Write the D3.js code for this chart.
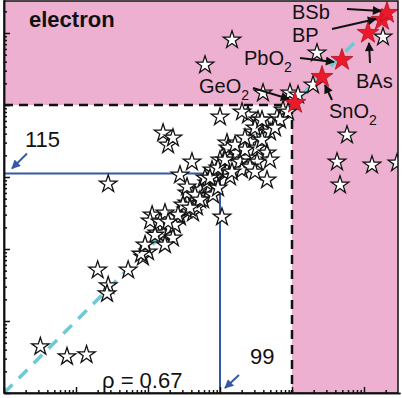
<!DOCTYPE html>
<html>
<head>
<meta charset="utf-8">
<script src="https://cdn.jsdelivr.net/npm/d3@7"></script>
<style>
  body { margin: 0; background: #fff; }
  svg { display: block; font-family: "Liberation Sans", Arial, sans-serif; }
</style>
</head>
<body>
<svg id="chart" width="402" height="398"></svg>
<script>
// ---- data ----
var starX = [3.2, 7.5, 14, 20, 28, 27, 53, 28, 85, 100, 80, 114, 107, 133, 162, 172, 202, 222, 278, 348,
  422, 125, 337, 480, 581, 527, 726, 348, 660, 853, 1173, 278, 408, 190, 162, 222, 1066, 348, 1000, 1250,
  1377, 1250, 1517, 1377, 2448, 2021, 6190, 7500, 4495, 4947, 2872, 2610, 1292, 1722, 3266, 2371, 4495, 4947, 3266, 1896,
  2021, 2610, 4495, 619, 1468, 22230, 3956, 9380, 12120, 19580, 183600, 58070, 42170, 129100, 287300, 46400, 8800, 6813, 450, 800,
  938, 237, 306, 91, 147, 3831, 5807, 2222, 774, 619, 1000, 3372,
  726, 938, 1173, 1616, 2222, 3063, 3831, 1468, 527, 383, 261, 190, 172, 3063];
var starY = [4.4, 3.2, 3.4, 51, 31, 24, 51, 800, 77, 91, 85, 297, 245, 167, 167, 316, 196, 142, 278, 435,
  316, 156, 348, 383, 480, 660, 726, 600, 826, 1000, 1136, 1066, 1616, 2783, 4083, 3480, 278, 726, 6813, 2966,
  2371, 1250, 1564, 1000, 7262, 8000, 6813, 8530, 4947, 4217, 4217, 3063, 2530, 2154, 2530, 1836, 2154, 1722, 1616, 1616,
  1250, 1377, 908, 35940, 80000, 52740, 14680, 14680, 13770, 18950, 88000, 3831, 1616, 1468, 1564, 774, 8000, 6190, 562, 562,
  703, 215, 408, 114, 237, 3266, 4795, 2371, 1250, 968, 1722, 6190,
  968, 1334, 1722, 2783, 3480, 4795, 6190, 1173, 480, 371, 297, 237, 114, 1173];

var hitNames = ["GeO", "SnO", "PbO", "BAs", "BP", "BSb"];
var hitSubs  = ["2", "2", "2", "", "", ""];
var hitX = [11010, 26100, 49470, 113600, 177800, 208400];
var hitY = [10660, 24480, 42170, 100000, 151700, 189600];

var threshold = 1e4;
var blueX = 1000, blueY = 1120;
var countLeft = "115", countBottom = "99";
var rhoText = "\u03c1 = 0.67";
var panelTitle = "electron";
var majorTicks = [1, 10, 100, 1e3, 1e4, 1e5];

// ---- layout ----
var svg = d3.select("#chart");
var plotL = 4, plotR = 398, plotT = 1, plotB = 393;
var x = d3.scaleLog().domain([1, Math.pow(10, 5.5)]).range([4, 400]);
var y = d3.scaleLog().domain([1, Math.pow(10, 393 / 72)]).range([393, 0]);

var pink = "#eeb0d0", blue = "#3559a6", cyan = "#72c8d2";

// label offsets from each red star, in pixels: text start, arrow start, arrow end
var labelLayout = [
  { tx: -96, ty: -10, ax: -42, ay: -15, bx: -6, by: -4 },
  { tx: 7, ty: 41, ax: 10, ay: 23, bx: 3, by: 8 },
  { tx: -98, ty: 5, ax: -42, ay: -2, bx: -8, by: 2 },
  { tx: -12, ty: 55, ax: 2, ay: 30, bx: 1, by: 10 },
  { tx: -90, ty: 22, ax: -50, ay: 9, bx: -6, by: -1 },
  { tx: -95, ty: 6, ax: -40, ay: -4, bx: -6, by: -2 }
];

var defs = svg.append("defs");
defs.append("clipPath").attr("id", "plotclip")
  .append("rect").attr("x", plotL).attr("y", plotT)
  .attr("width", plotR - plotL).attr("height", plotB - plotT);

function addArrow(id, color) {
  defs.append("marker")
    .attr("id", id)
    .attr("viewBox", "0 0 10 10")
    .attr("refX", 9).attr("refY", 5)
    .attr("markerUnits", "userSpaceOnUse")
    .attr("markerWidth", 11).attr("markerHeight", 9)
    .attr("orient", "auto")
    .append("path").attr("d", "M0,0 L10,5 L0,10 Z").attr("fill", color);
}
addArrow("arrowBlack", "#111");
addArrow("arrowBlue", blue);

var plot = svg.append("g").attr("clip-path", "url(#plotclip)");

// pink regions
plot.append("rect")
  .attr("x", plotL).attr("y", plotT)
  .attr("width", plotR - plotL).attr("height", y(threshold) - plotT)
  .attr("fill", pink);
plot.append("rect")
  .attr("x", x(threshold)).attr("y", y(threshold))
  .attr("width", plotR - x(threshold)).attr("height", plotB - y(threshold))
  .attr("fill", pink);

// threshold dashes
plot.append("line")
  .attr("x1", plotL).attr("x2", x(threshold))
  .attr("y1", y(threshold)).attr("y2", y(threshold))
  .attr("stroke", "#111").attr("stroke-width", 2.5).attr("stroke-dasharray", "9,6");
plot.append("line")
  .attr("x1", x(threshold)).attr("x2", x(threshold))
  .attr("y1", y(threshold)).attr("y2", plotB)
  .attr("stroke", "#111").attr("stroke-width", 2.5).attr("stroke-dasharray", "9,6");

// y = x guide
plot.append("line")
  .attr("x1", x(1)).attr("y1", y(1))
  .attr("x2", x(Math.pow(10, 4.9))).attr("y2", y(Math.pow(10, 4.9)))
  .attr("stroke", cyan).attr("stroke-width", 3.5).attr("stroke-dasharray", "12,9");

// blue box
plot.append("line")
  .attr("x1", plotL).attr("x2", x(blueX))
  .attr("y1", y(blueY)).attr("y2", y(blueY))
  .attr("stroke", blue).attr("stroke-width", 2);
plot.append("line")
  .attr("x1", x(blueX)).attr("x2", x(blueX))
  .attr("y1", y(blueY)).attr("y2", plotB)
  .attr("stroke", blue).attr("stroke-width", 2);

// stars
var starPath = d3.symbol().type(d3.symbolStar).size(9.2 * 9.2 / 0.8908)();
var bigStarPath = d3.symbol().type(d3.symbolStar).size(11.5 * 11.5 / 0.8908)();

plot.selectAll("path.star")
  .data(d3.range(starX.length))
  .enter().append("path")
  .attr("class", "star")
  .attr("d", starPath)
  .attr("transform", function (i) { return "translate(" + x(starX[i]) + "," + y(starY[i]) + ")"; })
  .attr("fill", "#fff")
  .attr("stroke", "#111")
  .attr("stroke-width", 1.3);

plot.selectAll("path.hit")
  .data(d3.range(hitX.length))
  .enter().append("path")
  .attr("class", "hit")
  .attr("d", bigStarPath)
  .attr("transform", function (i) { return "translate(" + x(hitX[i]) + "," + y(hitY[i]) + ")"; })
  .attr("fill", "#ea1a2a")
  .attr("stroke", "#b01020")
  .attr("stroke-width", 0.8);

// labels for red stars
hitNames.forEach(function (name, i) {
  var px = x(hitX[i]), py = y(hitY[i]), L = labelLayout[i];
  var t = svg.append("text")
    .attr("x", px + L.tx).attr("y", py + L.ty)
    .attr("font-size", 20).attr("fill", "#111");
  t.append("tspan").text(name);
  if (hitSubs[i]) {
    t.append("tspan").attr("font-size", 14).attr("dy", 7).text(hitSubs[i]);
  }
  svg.append("line")
    .attr("x1", px + L.ax).attr("y1", py + L.ay)
    .attr("x2", px + L.bx).attr("y2", py + L.by)
    .attr("stroke", "#111").attr("stroke-width", 2)
    .attr("marker-end", "url(#arrowBlack)");
});

// text annotations
svg.append("text").attr("x", 29).attr("y", 27)
  .attr("font-size", 22).attr("font-weight", "bold").attr("fill", "#111")
  .text(panelTitle);
svg.append("text").attr("x", 25).attr("y", 147)
  .attr("font-size", 22).attr("fill", "#111").text(countLeft);
svg.append("line")
  .attr("x1", 27).attr("y1", y(blueY) - 20).attr("x2", 12).attr("y2", y(blueY) - 5)
  .attr("stroke", blue).attr("stroke-width", 2).attr("marker-end", "url(#arrowBlue)");
svg.append("text").attr("x", 250).attr("y", 364)
  .attr("font-size", 22).attr("fill", "#111").text(countBottom);
svg.append("line")
  .attr("x1", x(blueX) + 19).attr("y1", plotB - 18).attr("x2", x(blueX) + 5).attr("y2", plotB - 5)
  .attr("stroke", blue).attr("stroke-width", 2).attr("marker-end", "url(#arrowBlue)");
svg.append("text").attr("x", 102).attr("y", 388)
  .attr("font-size", 22).attr("fill", "#111").text(rhoText);

// axes with inward ticks
var minorTicks = [];
majorTicks.forEach(function (d) {
  for (var k = 2; k <= 9; k++) minorTicks.push(d * k);
});
var minorX = minorTicks.filter(function (v) { return x(v) < plotR; });
var minorY = minorTicks.filter(function (v) { return y(v) > plotT; });

function styleAxis(g) {
  g.selectAll("path, line").attr("stroke", "#111").attr("stroke-width", 1.5);
  g.selectAll("text").remove();
}

svg.append("g").attr("transform", "translate(0," + plotB + ")")
  .call(d3.axisBottom(x).tickValues(minorX).tickSize(-3).tickSizeOuter(0).tickFormat(""))
  .call(styleAxis);
svg.append("g").attr("transform", "translate(0," + plotB + ")")
  .call(d3.axisBottom(x).tickValues(majorTicks).tickSize(-6).tickSizeOuter(0).tickFormat(""))
  .call(styleAxis);
svg.append("g").attr("transform", "translate(" + plotL + ",0)")
  .call(d3.axisLeft(y).tickValues(minorY).tickSize(-3).tickSizeOuter(0).tickFormat(""))
  .call(styleAxis);
svg.append("g").attr("transform", "translate(" + plotL + ",0)")
  .call(d3.axisLeft(y).tickValues(majorTicks.filter(function (v) { return y(v) > plotT; })).tickSize(-6).tickSizeOuter(0).tickFormat(""))
  .call(styleAxis);

// frame
svg.append("rect")
  .attr("x", plotL).attr("y", plotT)
  .attr("width", plotR - plotL).attr("height", plotB - plotT)
  .attr("fill", "none").attr("stroke", "#111").attr("stroke-width", 1.5);
</script>
</body>
</html>
